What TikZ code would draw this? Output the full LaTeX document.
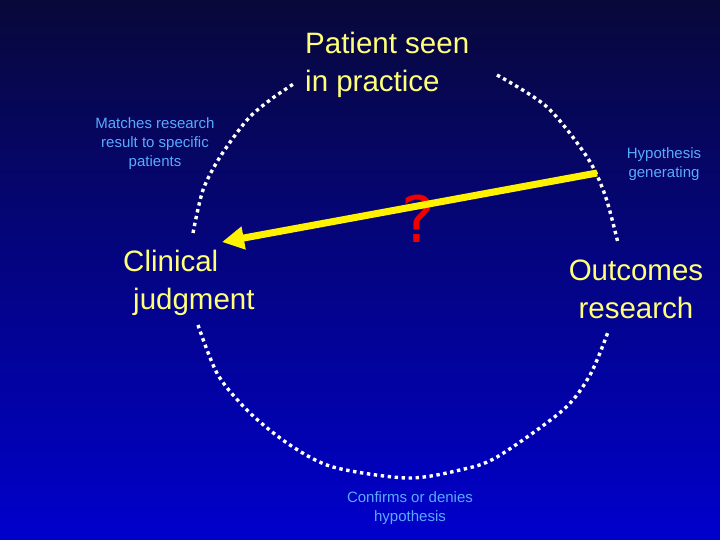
\documentclass[tikz,border=0pt]{standalone}
\usepackage{fontspec}
\setmainfont{Liberation Sans}
\newfontfamily\qfont{DejaVu Sans}
\usetikzlibrary{arrows.meta}
\definecolor{topc}{RGB}{8,8,58}
\definecolor{botc}{RGB}{0,0,205}
\definecolor{ytext}{RGB}{255,255,120}
\definecolor{btext}{RGB}{90,170,255}
\definecolor{qred}{RGB}{240,0,0}
\begin{document}
\begin{tikzpicture}[x=1pt,y=-1pt,
  dots/.style={white,line width=3.4pt,dash pattern=on 3.4pt off 3.6pt},
  big/.style={text=ytext,font=\fontsize{29.5}{34}\selectfont,inner sep=0pt,anchor=base west},
  small/.style={text=btext,font=\fontsize{15}{19}\selectfont,align=center,inner sep=0pt}]
\shade[top color=topc,bottom color=botc] (0,0) rectangle (720,540);
\useasboundingbox (0,0) rectangle (720,540);
\draw[dots] plot[smooth] coordinates {(193,233) (203,190) (220,157) (247,120) (270,100) (295,83)};
\draw[dots] plot[smooth] coordinates {(497,75) (547,107) (587,157) (605,195) (618,243)};
\draw[dots] plot[smooth] coordinates {(198,325) (218,375) (250,413) (290,445) (333,467) (407,478) (460,470) (497,457) (563,410) (590,375) (608,332)};
\node[text=qred,font=\qfont\fontsize{64}{64}\selectfont,inner sep=0pt,anchor=base] (q) at (418,242) {?};
\coordinate (s) at (597,173);
\coordinate (t) at (222,242);
\draw[yellow,line width=7pt,-{Triangle[length=22pt,width=22pt]}] (s) -- (t);
\node[big] (p1) at (305,54) {Patient seen};
\node[big] (p2) at (305,92) {in practice};
\node[big] (c1) at (123,271) {Clinical};
\node[big] (c2) at (133,309) {judgment};
\node[big,anchor=base] (o1) at (636,280) {Outcomes};
\node[big,anchor=base] (o2) at (636,318) {research};
\node[small] (m) at (155,144) {Matches research\\result to specific\\patients};
\node[small] (h) at (664,164) {Hypothesis\\generating};
\node[small] (cf) at (410,508) {Confirms or denies\\hypothesis};
\end{tikzpicture}
\end{document}
